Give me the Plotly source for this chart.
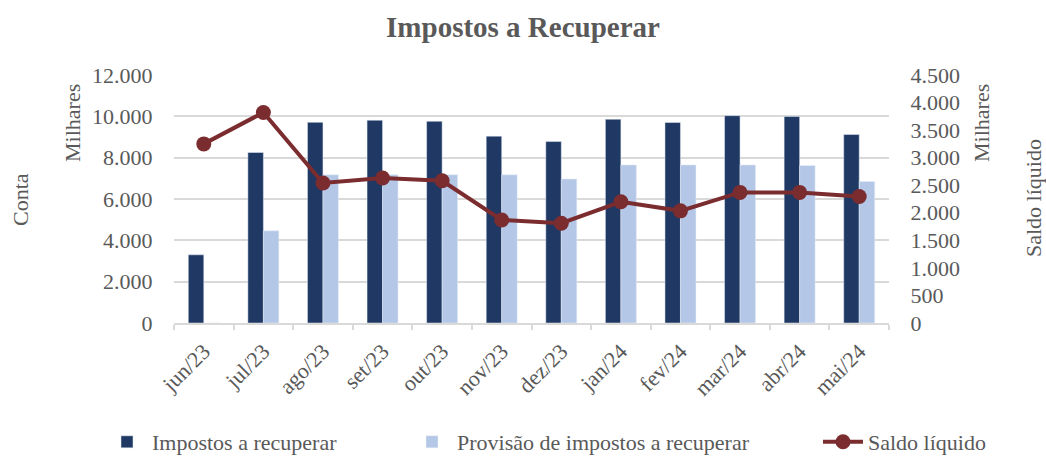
import plotly.graph_objects as go

categories = ["jun/23", "jul/23", "ago/23", "set/23", "out/23", "nov/23",
              "dez/23", "jan/24", "fev/24", "mar/24", "abr/24", "mai/24"]
impostos = [3300, 8250, 9710, 9810, 9760, 9040, 8780, 9860, 9700, 10030, 9990, 9120]
provisao = [0, 4460, 7170, 7170, 7170, 7170, 6970, 7650, 7650, 7650, 7620, 6850]
saldo = [3250, 3820, 2540, 2630, 2580, 1870, 1810, 2200, 2035, 2370, 2370, 2295]

FONT = "Liberation Serif"
GRAY = "#595959"
FS = 22

fig = go.Figure()
fig.add_trace(go.Bar(x=categories, y=impostos, name="Impostos a recuperar",
                     marker_color="#1f3864", yaxis="y", legend="legend"))
fig.add_trace(go.Bar(x=categories, y=provisao, name="Provisão de impostos a recuperar",
                     marker_color="#b4c7e7", yaxis="y", legend="legend2"))
fig.add_trace(go.Scatter(x=categories, y=saldo, name="Saldo líquido", yaxis="y2",
                         mode="lines+markers", legend="legend3",
                         line=dict(color="#7b2c2f", width=4),
                         marker=dict(color="#7b2c2f", size=15)))

L, R, T, B = 174, 157, 75, 134
W, H = 1046, 457
pw = W - L - R
ph = H - T - B


def leg(xpx):
    return dict(orientation="h", x=(xpx - L) / pw, xanchor="left",
                y=(T + ph - 442) / ph, yanchor="middle",
                font=dict(family=FONT, size=FS, color=GRAY),
                itemwidth=40, bgcolor="rgba(0,0,0,0)")


fig.update_layout(
    width=W, height=H,
    margin=dict(l=L, r=R, t=T, b=B, autoexpand=False),
    paper_bgcolor="white", plot_bgcolor="white",
    separators=",.",
    font=dict(family=FONT, color=GRAY, size=FS),
    title=dict(text="<b>Impostos a Recuperar</b>", x=0.5, xanchor="center",
               y=1 - 27 / H, yanchor="middle",
               font=dict(family=FONT, size=29, color=GRAY)),
    barmode="group", bargap=0.48, bargroupgap=0,
    xaxis=dict(range=[-0.5, len(categories) - 0.5], autorange=False,
               showgrid=False, showline=True, linecolor="#d9d9d9", linewidth=1.5,
               ticks="outside", tickson="boundaries", ticklen=5, tickcolor="#d9d9d9",
               tickwidth=1.5, automargin=False, ticklabelstandoff=5,
               tickangle=-45, tickfont=dict(size=FS, color=GRAY)),
    yaxis=dict(range=[0, 12000], dtick=2000, tickformat=",", showgrid=True,
               gridcolor="#d9d9d9", gridwidth=1.5, zeroline=False, automargin=False,
               ticks="outside", ticklen=16, tickcolor="rgba(0,0,0,0)",
               tickfont=dict(size=FS, color=GRAY)),
    yaxis2=dict(range=[0, 4500], dtick=500, tickformat=",", overlaying="y",
                side="right", showgrid=False, zeroline=False, automargin=False,
                ticks="outside", ticklen=16, tickcolor="rgba(0,0,0,0)",
                tickfont=dict(size=FS, color=GRAY)),
    showlegend=True,
    legend=leg(102),
    legend2=leg(407),
    legend3=leg(818),
)

annots = [
    dict(text="Conta", x=0, xshift=20 - L, y=(T + ph - 200) / ph),
    dict(text="Milhares", x=0, xshift=72 - L, y=(T + ph - 123) / ph),
    dict(text="Milhares", x=1, xshift=981 - (L + pw), y=(T + ph - 123) / ph),
    dict(text="Saldo líquido", x=1, xshift=1033 - (L + pw), y=(T + ph - 198) / ph),
]
for a in annots:
    fig.add_annotation(xref="paper", yref="paper", showarrow=False, textangle=-90,
                       xanchor="center", yanchor="middle",
                       font=dict(family=FONT, size=FS, color=GRAY), **a)

fig.write_html("out.html", config={"displayModeBar": False},
               post_script="document.body.style.margin='0';"
                           "document.body.style.overflow='hidden';")
